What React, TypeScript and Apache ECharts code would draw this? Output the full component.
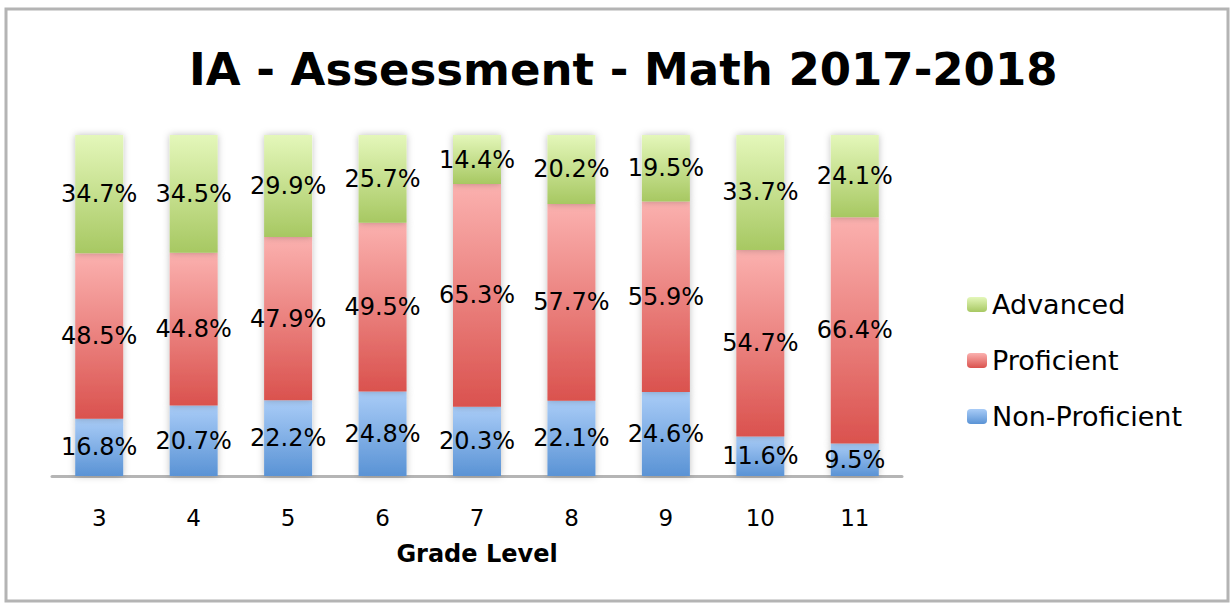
import React, { useEffect, useRef } from "react";
import * as echarts from "echarts";

const grades = ["3", "4", "5", "6", "7", "8", "9", "10", "11"];
const nonProficient = [16.8, 20.7, 22.2, 24.8, 20.3, 22.1, 24.6, 11.6, 9.5];
const proficient = [48.5, 44.8, 47.9, 49.5, 65.3, 57.7, 55.9, 54.7, 66.4];
const advanced = [34.7, 34.5, 29.9, 25.7, 14.4, 20.2, 19.5, 33.7, 24.1];

const grad = (top: string, bottom: string) =>
  new echarts.graphic.LinearGradient(0, 0, 0, 1, [
    { offset: 0, color: top },
    { offset: 1, color: bottom },
  ]);

export default function App() {
  const ref = useRef<HTMLDivElement>(null);
  useEffect(() => {
    document.body.style.margin = "0";
    const chart = echarts.init(ref.current!, null, { renderer: "svg" });
    const label = {
      show: true,
      position: "inside" as const,
      color: "#000",
      fontFamily: "DejaVu Sans",
      fontSize: 24,
      formatter: (p: any) => p.value.toFixed(1) + "%",
    };
    const common = {
      type: "bar" as const,
      stack: "total",
      barWidth: 48,
      label,
    };
    const shadow = {
      shadowColor: "rgba(0,0,0,0.25)",
      shadowBlur: 7,
    };
    chart.setOption({
      animation: false,
      title: {
        text: "IA - Assessment - Math 2017-2018",
        left: 184,
        top: 42,
        textStyle: {
          fontFamily: "DejaVu Sans",
          fontWeight: "bold",
          fontSize: 45,
          color: "#000",
        },
      },
      legend: {
        orient: "vertical",
        left: 962,
        top: 286,
        itemGap: 29,
        itemWidth: 20,
        itemHeight: 15,
        data: ["Advanced", "Proficient", "Non-Proficient"],
        textStyle: {
          fontFamily: "DejaVu Sans",
          fontSize: 27,
          color: "#000",
        },
      },
      grid: { left: 52, right: 328, top: 135, bottom: 128 },
      xAxis: {
        type: "category",
        data: grades,
        name: "Grade Level",
        nameLocation: "middle",
        nameGap: 66,
        nameTextStyle: {
          fontFamily: "DejaVu Sans",
          fontWeight: "bold",
          fontSize: 24,
          color: "#000",
        },
        axisLine: { lineStyle: { color: "#b5b5b5", width: 3 } },
        axisTick: { show: false },
        axisLabel: {
          fontFamily: "DejaVu Sans",
          fontSize: 23,
          color: "#000",
          margin: 30,
        },
      },
      yAxis: {
        type: "value",
        min: 0,
        max: 100,
        show: false,
        splitLine: { show: false },
      },
      graphic: [
        {
          type: "rect",
          shape: { x: 6, y: 9, width: 1222, height: 592 },
          style: { fill: "none", stroke: "#b4b4b4", lineWidth: 3 },
          silent: true,
        },
      ],
      series: [
        {
          ...common,
          name: "Non-Proficient",
          data: nonProficient,
          itemStyle: { color: grad("#a9ccf7", "#5a93d5"), ...shadow },
        },
        {
          ...common,
          name: "Proficient",
          data: proficient,
          itemStyle: { color: grad("#fbb1af", "#da524e"), ...shadow },
        },
        {
          ...common,
          name: "Advanced",
          data: advanced,
          itemStyle: { color: grad("#e4f7ba", "#a7c862"), ...shadow },
        },
      ],
    });
    return () => chart.dispose();
  }, []);
  return <div ref={ref} style={{ width: 1230, height: 604 }} />;
}
